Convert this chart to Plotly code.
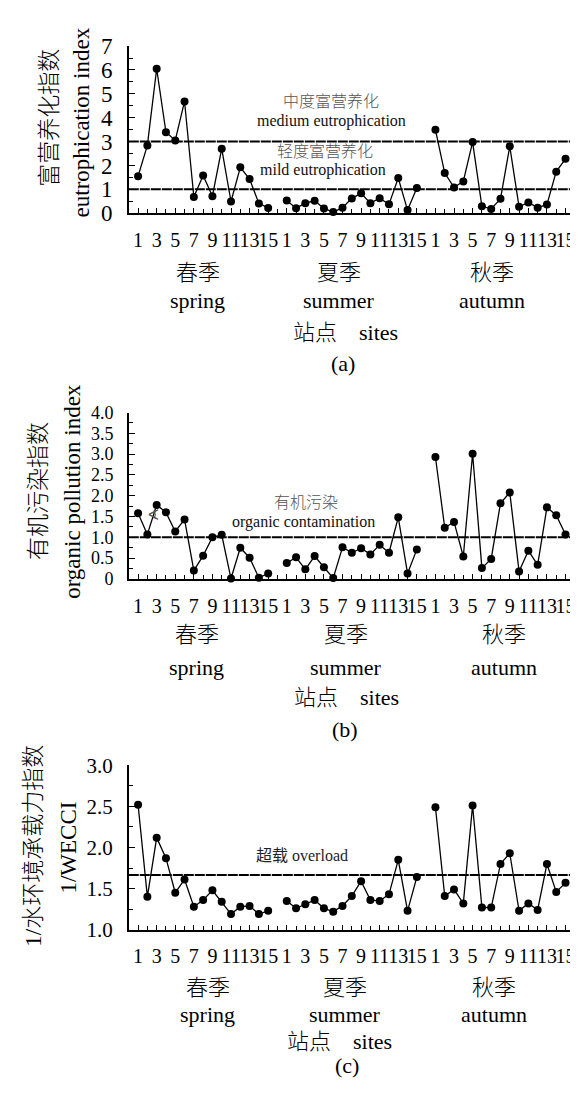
import plotly.graph_objects as go

W, H = 578, 1094

sites = list(range(1, 16))
seasons_cn = ["春季", "夏季", "秋季"]
seasons_en = ["spring", "summer", "autumn"]

# (a) eutrophication index
eut_spring = [1.55, 2.84, 6.05, 3.39, 3.05, 4.68, 0.68, 1.58, 0.71, 2.70, 0.49, 1.92, 1.43, 0.41, 0.22]
eut_summer = [0.53, 0.21, 0.42, 0.52, 0.20, 0.05, 0.23, 0.62, 0.83, 0.42, 0.63, 0.37, 1.47, 0.13, 1.05]
eut_autumn = [3.49, 1.68, 1.08, 1.33, 2.98, 0.29, 0.18, 0.60, 2.80, 0.27, 0.45, 0.23, 0.36, 1.74, 2.28]

# (b) organic pollution index
org_spring = [1.58, 1.07, 1.78, 1.60, 1.14, 1.43, 0.20, 0.56, 1.00, 1.06, 0.01, 0.75, 0.51, 0.03, 0.13]
org_summer = [0.38, 0.52, 0.23, 0.55, 0.28, 0.02, 0.76, 0.63, 0.74, 0.59, 0.82, 0.63, 1.48, 0.13, 0.71]
org_autumn = [2.93, 1.23, 1.37, 0.54, 3.01, 0.26, 0.48, 1.82, 2.08, 0.18, 0.68, 0.34, 1.72, 1.53, 1.07]

# (c) 1/WECCI
wec_spring = [2.52, 1.40, 2.12, 1.87, 1.45, 1.61, 1.28, 1.36, 1.48, 1.34, 1.19, 1.28, 1.29, 1.19, 1.23]
wec_summer = [1.35, 1.26, 1.31, 1.36, 1.26, 1.22, 1.29, 1.41, 1.59, 1.36, 1.35, 1.43, 1.85, 1.23, 1.64]
wec_autumn = [2.49, 1.41, 1.49, 1.32, 2.51, 1.27, 1.27, 1.80, 1.93, 1.23, 1.32, 1.24, 1.80, 1.46, 1.57]

# thresholds
eut_thresholds = [1, 3]
org_threshold = 1.0
wec_threshold = 5 / 3

y_ticks_a = [0, 1, 2, 3, 4, 5, 6, 7]
y_ticks_b = [0, 0.5, 1.0, 1.5, 2.0, 2.5, 3.0, 3.5, 4.0]
y_text_b = ["0", "0.5", "1.0", "1.5", "2.0", "2.5", "3.0", "3.5", "4.0"]
y_ticks_c = [1.0, 1.5, 2.0, 2.5, 3.0]
y_text_c = ["1.0", "1.5", "2.0", "2.5", "3.0"]

FONT = "Liberation Serif, Noto Sans CJK SC, serif"

def pos(season, site):
    return season * 16 + (site - 1)

tickvals = [pos(s, i) for s in range(3) for i in sites if i % 2 == 1]
ticktext = [str(i) for s in range(3) for i in sites if i % 2 == 1]

fig = go.Figure()

panels = [
    ("x", "y", [eut_spring, eut_summer, eut_autumn]),
    ("x2", "y2", [org_spring, org_summer, org_autumn]),
    ("x3", "y3", [wec_spring, wec_summer, wec_autumn]),
]
for xa, ya, data in panels:
    for s, vals in enumerate(data):
        fig.add_trace(go.Scatter(
            x=[pos(s, i) for i in sites], y=vals, xaxis=xa, yaxis=ya,
            mode="lines+markers", cliponaxis=False, showlegend=False,
            line=dict(color="black", width=1.3),
            marker=dict(color="black", size=8),
        ))

xdom = [121 / W, 567.8 / W]
def ydom(top, bottom):
    return [1 - bottom / H, 1 - top / H]

def xaxis_cfg(anchor):
    return dict(
        domain=xdom, anchor=anchor, range=[-1, 47],
        showline=True, linecolor="black", linewidth=1.5,
        showgrid=False, zeroline=False,
        ticks="inside", ticklen=5, tickcolor="black", tickwidth=1,
        tickmode="array", tickvals=tickvals, ticktext=ticktext, tickangle=0,
        tickfont=dict(family=FONT, size=20, color="black"),
        ticklabelstandoff=8,
        minor=dict(ticks="inside", ticklen=4, tickcolor="black", dtick=1, tick0=0),
    )

def yaxis_cfg(anchor, dom, rng, tv, tt, minor_dt, fsize):
    return dict(
        domain=dom, anchor=anchor, range=rng,
        showline=True, linecolor="black", linewidth=1.5,
        showgrid=False, zeroline=False,
        ticks="inside", ticklen=6, tickcolor="black", tickwidth=1,
        tickmode="array", tickvals=tv, ticktext=tt,
        tickfont=dict(family=FONT, size=fsize, color="black"),
        ticklabelstandoff=10,
        minor=dict(ticks="inside", ticklen=4, tickcolor="black", dtick=minor_dt, tick0=rng[0]),
    )

fig.update_layout(
    width=W, height=H, autosize=False,
    margin=dict(l=0, r=0, t=0, b=0),
    paper_bgcolor="white", plot_bgcolor="white",
    xaxis=xaxis_cfg("y"),
    xaxis2=xaxis_cfg("y2"),
    xaxis3=xaxis_cfg("y3"),
    yaxis=yaxis_cfg("x", ydom(26.7, 197.7), [0, 7], y_ticks_a, [str(v) for v in y_ticks_a], 0.5, 23),
    yaxis2=yaxis_cfg("x2", ydom(401.7, 572), [0, 4], y_ticks_b, y_text_b, 0.25, 18),
    yaxis3=yaxis_cfg("x3", ydom(762.7, 931), [1, 3], y_ticks_c, y_text_c, 0.25, 21),
)

# threshold lines
for ya, yv in [("y", eut_thresholds[0]), ("y", eut_thresholds[1]), ("y2", org_threshold), ("y3", wec_threshold)]:
    xref = {"y": "x", "y2": "x2", "y3": "x3"}[ya] + " domain"
    fig.add_shape(type="line", xref=xref, yref=ya, x0=0, x1=1, y0=yv, y1=yv,
                  line=dict(color="black", width=2, dash="10px,1px"))

ann = []
def txt(text, px, py, size, color="black", angle=0, weight=None):
    f = dict(family=FONT, size=size, color=color)
    if weight:
        f["weight"] = weight
    ann.append(dict(text=text, x=px / W, y=1 - py / H, xref="paper", yref="paper",
                    showarrow=False, xanchor="center", yanchor="middle",
                    textangle=angle, font=f))

# threshold labels
txt("中度富营养化", 324, 83, 16, "#555", weight=300)
txt("medium eutrophication", 324, 103, 16, "#111")
txt("轻度富营养化", 318, 135, 16, "#555", weight=300)
txt("mild eutrophication", 316, 154, 16, "#111")
txt("有机污染", 299, 494, 16, "#555", weight=300)
txt("organic contamination", 296, 514, 16, "#111")
txt("超载 overload", 295, 855, 16, "#222")
txt("∢", 146, 507, 15, "#555")

# y axis titles
txt("富营养化指数", 42, 100, 23, angle=-90, weight=300)
txt("eutrophication index", 74, 105, 23, angle=-90)
txt("有机污染指数", 31, 482, 23, angle=-90, weight=300)
txt("organic pollution index", 65, 482, 23, angle=-90)
txt("1/水环境承载力指数", 26, 845, 23, angle=-90, weight=300)
txt("1/WECCI", 61, 847, 23, angle=-90)

# season / axis labels per panel
season_x = [[190, 332, 485], [189, 339, 497], [200, 338, 487]]
rows = [(258, 287, 320, 352, "(a)", 336), (629, 663, 693, 726, "(b)", 338), (990, 1018, 1045, 1070, "(c)", 340)]
sites_x = [338, 339, 332]
for p, (ycn, yen, ysite, ylab, lab, xlab) in enumerate(rows):
    for s in range(3):
        txt(seasons_cn[s], season_x[p][s], ycn, 22, weight=300)
        txt(seasons_en[s], season_x[p][s], yen, 22)
    txt("站点　sites", sites_x[p], ysite, 22, weight=300)
    txt(lab, xlab, ylab, 22)

fig.update_layout(annotations=ann)
fig.write_html("out.html")
